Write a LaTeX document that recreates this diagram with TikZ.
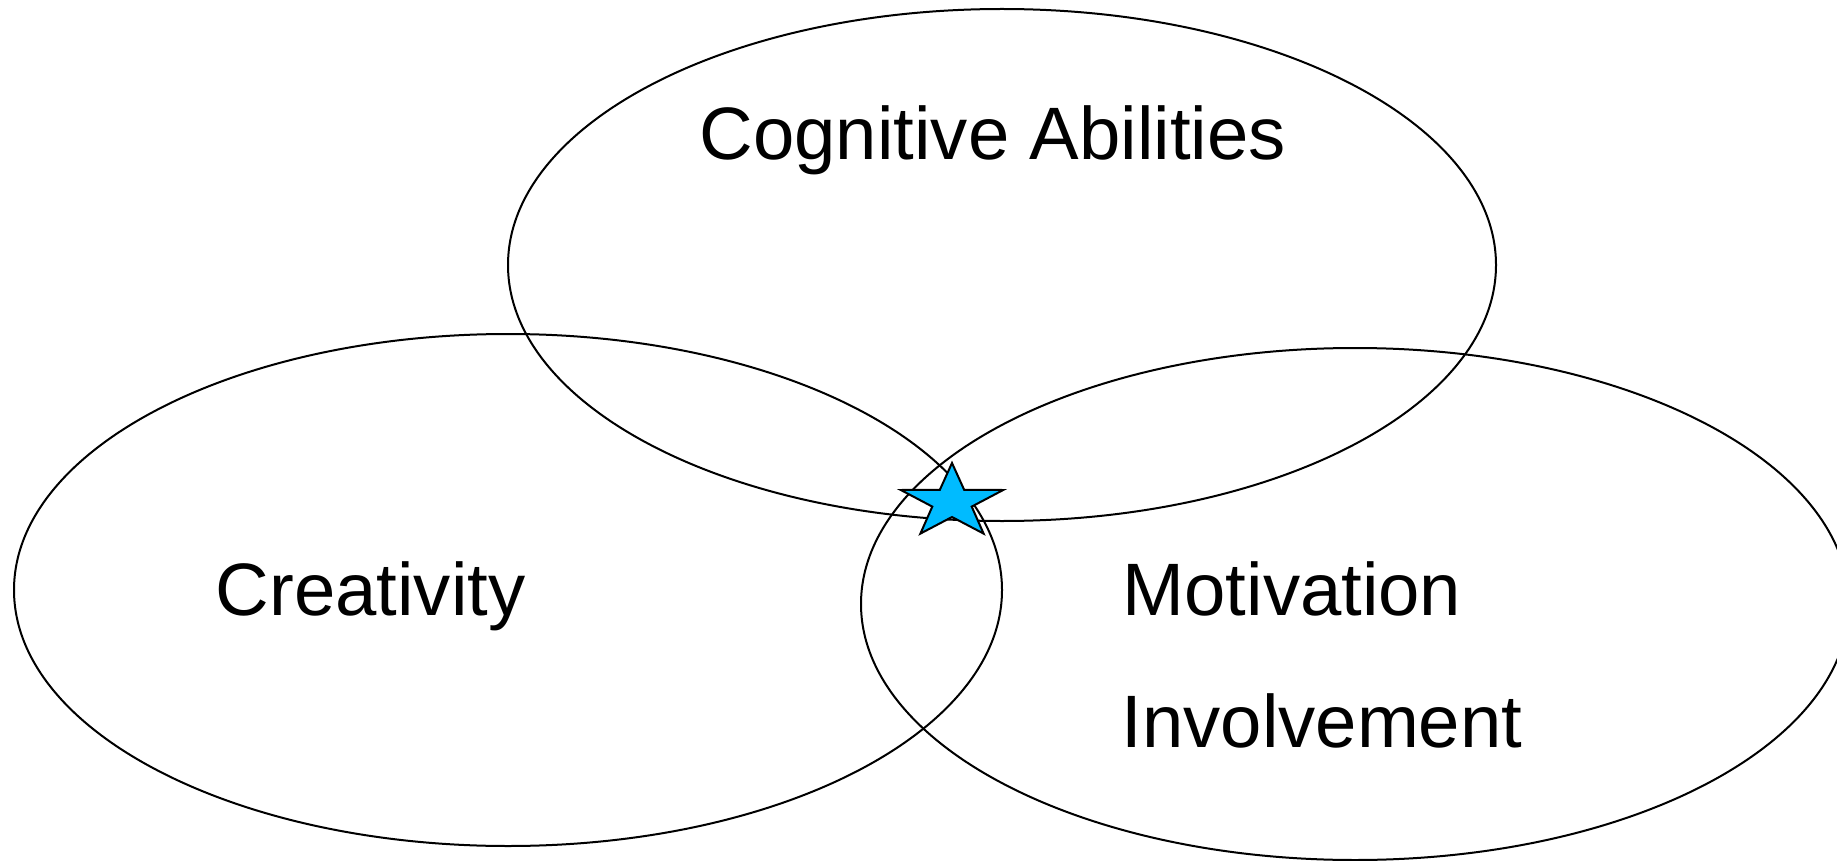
\documentclass[tikz,border=0pt]{standalone}
\usepackage{fontspec}
\setmainfont{Liberation Sans}
\definecolor{starblue}{RGB}{0,187,255}
\begin{document}
\begin{tikzpicture}[x=1pt,y=-1pt,
  ring/.style={draw=black,line width=2pt},
  lbl/.style={inner sep=0pt,font=\fontsize{74.3}{89}\selectfont,anchor=base west},
  starshape/.style={draw=black,line width=2pt,fill=starblue,line join=miter}]
\useasboundingbox (0,0) rectangle (1837,861);
\begin{scope}
\clip (0,0) rectangle (1837,861);
\draw[ring] (1002,265) ellipse [x radius=494, y radius=256];
\draw[ring] (508,590) ellipse [x radius=494, y radius=256];
\draw[ring] (1355,604) ellipse [x radius=494, y radius=256];
\end{scope}
\draw[starshape] (952,463) -- (964.2,489.9) -- (1003.2,490) -- (971.7,506.6)
  -- (983.6,533.6) -- (952,517) -- (920.4,533.6) -- (932.3,506.6)
  -- (900.8,490) -- (939.8,489.9) -- cycle;
\node[lbl] (cog) at (699.5,160) {Cognitive Abilities};
\node[lbl] (cre) at (215.5,615) {Creativity};
\node[lbl] (mot) at (1122.5,615) {Motivation};
\node[lbl] (inv) at (1121.5,747) {Involvement};
\end{tikzpicture}
\end{document}
